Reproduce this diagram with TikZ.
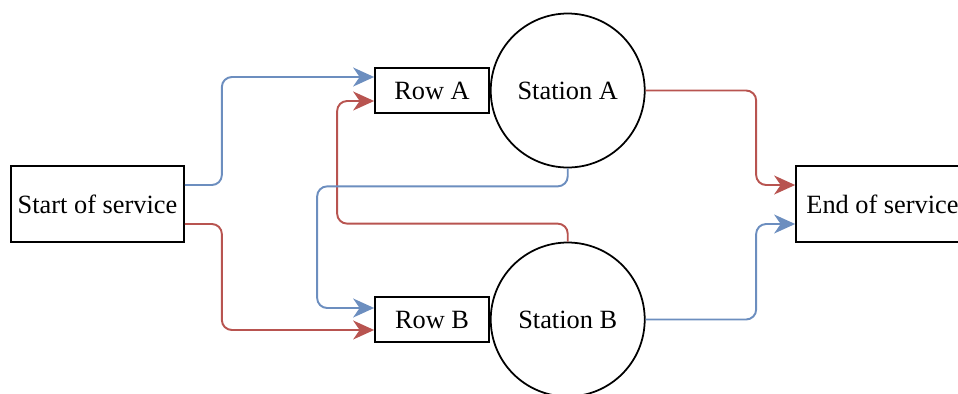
\documentclass[tikz,border=0pt]{standalone}
\usepackage{fontspec}
\setmainfont{Liberation Serif}
\usetikzlibrary{arrows.meta, positioning}

\definecolor{flowblue}{HTML}{6C8EBF}
\definecolor{flowred}{HTML}{B85450}

\begin{document}
\begin{tikzpicture}[
        x=0.02cm, y=-0.02cm,
        font=\fontsize{15}{18}\selectfont,
        block/.style={rectangle, draw, line width=1pt, inner sep=0pt},
        station/.style={circle, draw, line width=1pt, inner sep=0pt, minimum size=3.08cm},
        flow/.style={line width=1.1pt, rounded corners=0.2cm, -{Stealth[length=4.2mm, width=3.8mm, inset=1.3mm]}},
        blueflow/.style={flow, draw=flowblue},
        redflow/.style={flow, draw=flowred}
    ]
    \useasboundingbox (0,0) rectangle (958,393);

    % Nodes
    \node[block, minimum width=3.46cm, minimum height=1.52cm] (start) at (97.5,204) {Start of service};
    \node[block, minimum width=2.28cm, minimum height=0.9cm] (rowA) at (432,90.5) {Row A};
    \node[station, right=0pt of rowA] (stationA) {Station A};
    \node[block, minimum width=2.28cm, minimum height=0.9cm] (rowB) at (432,319.5) {Row B};
    \node[station, right=0pt of rowB] (stationB) {Station B};
    \node[block, minimum width=3.46cm, minimum height=1.52cm] (end) at (882.5,204) {End of service};

    % Into the rows
    \draw[blueflow] ([yshift=0.38cm]start.east) -- ++(37,0) |- ([yshift=0.27cm]rowA.west);
    \draw[redflow] ([yshift=-0.4cm]start.east) -- ++(37,0) |- ([yshift=-0.21cm]rowB.west);
    \draw[redflow] (stationB.north) -- ++(0,-18) -| ([xshift=-0.74cm,yshift=-0.21cm]rowA.west) -- ([yshift=-0.21cm]rowA.west);
    \draw[blueflow] (stationA.south) -- ++(0,18) -| ([xshift=-1.14cm,yshift=0.23cm]rowB.west) -- ([yshift=0.23cm]rowB.west);

    % Out to the end
    \draw[redflow] (stationA.east) -| ([xshift=-0.78cm,yshift=0.38cm]end.west) -- ([yshift=0.38cm]end.west);
    \draw[blueflow] (stationB.east) -| ([xshift=-0.78cm,yshift=-0.4cm]end.west) -- ([yshift=-0.4cm]end.west);
\end{tikzpicture}
\end{document}
